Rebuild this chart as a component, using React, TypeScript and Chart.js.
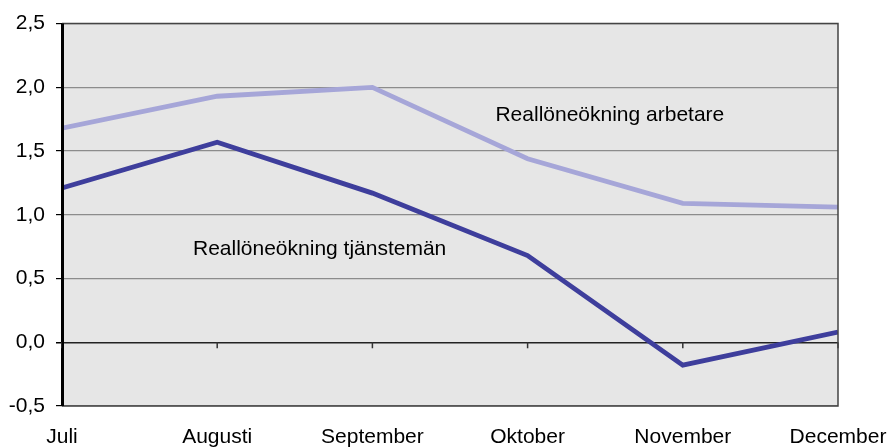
import React, { useEffect, useRef } from "react";
import { Chart, registerables } from "chart.js";

Chart.register(...registerables);

const months = ["Juli", "Augusti", "September", "Oktober", "November", "December"];
const arbetare = [1.68, 1.93, 2.0, 1.44, 1.09, 1.06];
const tjansteman = [1.21, 1.57, 1.17, 0.68, -0.18, 0.08];
const yMin = -0.5;
const yMax = 2.5;
const yStep = 0.5;
const labelArbetare = "Reallöneökning arbetare";
const labelTjansteman = "Reallöneökning tjänstemän";
// annotation anchors in data units (category index, value)
const annArbetare = { x: 3.53, y: 1.78 };
const annTjansteman = { x: 1.66, y: 0.73 };

const FONT = "Liberation Sans, Arial, sans-serif";

const plotDeco = {
  id: "plotDeco",
  beforeDraw(chart: any) {
    const { ctx, chartArea: a } = chart;
    ctx.save();
    ctx.fillStyle = "#e6e6e6";
    ctx.fillRect(a.left, a.top, a.right - a.left, a.bottom - a.top);
    ctx.restore();
  },
  beforeDatasetsDraw(chart: any) {
    const { ctx } = chart;
    const xs = chart.scales.x;
    const ys = chart.scales.y;
    const y0 = ys.getPixelForValue(0);
    ctx.save();
    ctx.strokeStyle = "#333";
    ctx.lineWidth = 1.5;
    months.forEach((_, i) => {
      const x = xs.getPixelForValue(i);
      ctx.beginPath();
      ctx.moveTo(x, y0);
      ctx.lineTo(x, y0 + 6);
      ctx.stroke();
    });
    ctx.restore();
  },
  afterDatasetsDraw(chart: any) {
    const { ctx, chartArea: a } = chart;
    const xs = chart.scales.x;
    const ys = chart.scales.y;
    ctx.save();
    ctx.strokeStyle = "#444";
    ctx.lineWidth = 1.5;
    ctx.beginPath();
    ctx.moveTo(a.left, a.top);
    ctx.lineTo(a.right, a.top);
    ctx.lineTo(a.right, a.bottom);
    ctx.lineTo(a.left, a.bottom);
    ctx.stroke();
    ctx.strokeStyle = "#000";
    ctx.lineWidth = 2;
    ctx.beginPath();
    ctx.moveTo(a.left + 1, a.top);
    ctx.lineTo(a.left + 1, a.bottom);
    ctx.stroke();
    ctx.fillStyle = "#000";
    ctx.font = "21px " + FONT;
    ctx.textAlign = "center";
    ctx.textBaseline = "middle";
    ctx.fillText(labelArbetare, xs.getPixelForValue(annArbetare.x), ys.getPixelForValue(annArbetare.y));
    ctx.fillText(labelTjansteman, xs.getPixelForValue(annTjansteman.x), ys.getPixelForValue(annTjansteman.y));
    ctx.restore();
  },
};

export default function App() {
  const ref = useRef<HTMLCanvasElement | null>(null);
  useEffect(() => {
    if (!ref.current) return;
    const chart = new Chart(ref.current, {
      type: "line",
      data: {
        labels: months,
        datasets: [
          {
            label: labelArbetare,
            data: arbetare,
            borderColor: "#a6a6d8",
            borderWidth: 4.8,
            pointRadius: 0,
            tension: 0,
            fill: false,
            clip: 0,
          },
          {
            label: labelTjansteman,
            data: tjansteman,
            borderColor: "#3e3e9c",
            borderWidth: 4.8,
            pointRadius: 0,
            tension: 0,
            fill: false,
            clip: 0,
          },
        ],
      },
      options: {
        responsive: false,
        animation: false,
        devicePixelRatio: 1,
        layout: { padding: { top: 20, right: 51, left: 0, bottom: 0 } },
        plugins: { legend: { display: false }, tooltip: { enabled: false } },
        scales: {
          x: {
            type: "category",
            offset: false,
            grid: {
              display: true,
              drawOnChartArea: false,
              drawTicks: true,
              tickLength: 19,
              color: "rgba(0,0,0,0)",
              tickColor: "rgba(0,0,0,0)",
            },
            border: { display: false },
            ticks: {
              color: "#000",
              font: { size: 21, family: FONT },
              maxRotation: 0,
              autoSkip: false,
              padding: 0,
            },
            afterFit(scale: any) {
              scale.height = 41;
            },
          },
          y: {
            min: yMin,
            max: yMax,
            grid: {
              color: (c: any) => (c.tick && c.tick.value === 0 ? "#222" : "#8c8c8c"),
              lineWidth: (c: any) => (c.tick && c.tick.value === 0 ? 1.5 : 1.2),
              tickColor: "#000",
              tickLength: 6,
            },
            border: { display: true, color: "#000", width: 2 },
            ticks: {
              stepSize: yStep,
              color: "#000",
              font: { size: 21, family: FONT },
              padding: 11,
              callback: (v: any) => Number(v).toFixed(1).replace(".", ","),
            },
            afterFit(scale: any) {
              scale.width = 62;
            },
          },
        },
      },
      plugins: [plotDeco],
    });
    return () => chart.destroy();
  }, []);
  return (
    <div style={{ position: "fixed", left: 0, top: 0, width: 889, height: 447, background: "#fff" }}>
      <canvas ref={ref} width={889} height={447} />
    </div>
  );
}
